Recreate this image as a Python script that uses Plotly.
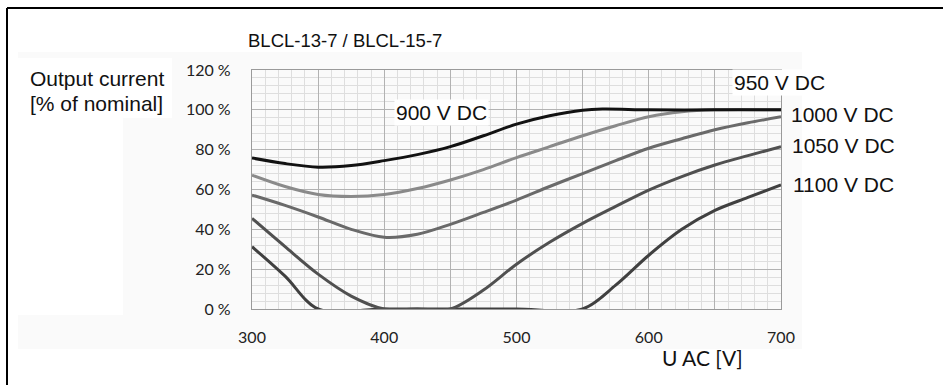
import plotly.graph_objects as go

# ---- data ----
v900_x = [300, 325, 350, 375, 400, 425, 450, 475, 500, 525, 550, 565, 600, 650, 700]
v900_y = [75.8, 73, 71.2, 72, 74.5, 77.5, 81.5, 87, 92.8, 97, 99.8, 100.4, 100, 100, 100]

v950_x = [300, 325, 350, 375, 400, 425, 450, 475, 500, 525, 550, 575, 600, 625, 650, 700]
v950_y = [67.2, 61.5, 57.5, 56.5, 57.5, 60.5, 64.8, 70, 76, 81.5, 87, 92, 96.5, 99, 100, 100]

v1000_x = [300, 325, 350, 375, 400, 425, 450, 475, 500, 525, 550, 575, 600, 625, 650, 675, 700]
v1000_y = [57.2, 52, 46.2, 40, 36, 37.5, 42.5, 48.5, 54.7, 61.5, 68, 74.5, 80.7, 85.5, 90, 93.5, 96.5]

v1050_x = [300, 325, 350, 375, 400, 425, 450, 475, 500, 525, 550, 575, 600, 625, 650, 675, 700]
v1050_y = [45.5, 31.3, 17.5, 6.5, 0, 0, 0, 9.5, 22.5, 33.5, 43, 51.5, 59.7, 66.5, 72.3, 77, 81.5]

v1100_x = [300, 325, 350, 400, 450, 500, 550, 575, 600, 625, 650, 675, 700]
v1100_y = [31.3, 16.5, 0, 0, 0, 0, 0, 12, 27, 40, 49.5, 56, 62.3]

series = [
    ("1100 V DC", v1100_x, v1100_y, "#404040"),
    ("1050 V DC", v1050_x, v1050_y, "#505050"),
    ("1000 V DC", v1000_x, v1000_y, "#6a6a6a"),
    ("950 V DC", v950_x, v950_y, "#8a8a8a"),
    ("900 V DC", v900_x, v900_y, "#121212"),
]

x_ticks = [300, 350, 400, 450, 500, 550, 600, 650, 700]
x_tick_text = ["300", "", "400", "", "500", "", "600", "", "700"]
y_ticks = [0, 20, 40, 60, 80, 100, 120]
y_tick_text = [f"{v} %" for v in y_ticks]

title_text = "BLCL-13-7 / BLCL-15-7"
y_title = ["Output current", "[% of nominal]"]
x_title = "U AC [V]"

W, H = 943, 385
L, R, T, B = 252, 781, 70, 309  # plot area pixels


def px(x):
    return (x - L) / (R - L)


def py(y):
    return (B - y) / (B - T)


fig = go.Figure()
for name, xs, ys, col in series:
    fig.add_trace(go.Scatter(x=xs, y=ys, mode="lines", name=name,
                             line=dict(color=col, width=3, shape="spline", smoothing=0.9),
                             showlegend=False, hoverinfo="skip"))

TICKFONT = dict(family="Lato, Liberation Sans, Arial", size=16, color="#222222")
LBLFONT = dict(family="Liberation Sans, Arial", size=21, color="#111111")

shapes = [
    # faint background panel
    dict(type="rect", xref="paper", yref="paper", x0=px(18), x1=px(802), y0=py(349), y1=py(52),
         fillcolor="#fafafa", line=dict(width=0), layer="below"),
    dict(type="rect", xref="paper", yref="paper", x0=px(18), x1=px(172), y0=py(118), y1=py(58),
         fillcolor="#ffffff", line=dict(width=0), layer="below"),
    dict(type="rect", xref="paper", yref="paper", x0=px(18), x1=px(123), y0=py(315), y1=py(118),
         fillcolor="#ffffff", line=dict(width=0), layer="below"),
    # outer frame (top + left)
    dict(type="line", xref="paper", yref="paper", x0=px(7), x1=px(943), y0=py(8), y1=py(8),
         line=dict(color="#000000", width=2)),
    dict(type="line", xref="paper", yref="paper", x0=px(7), x1=px(7), y0=py(8), y1=py(385),
         line=dict(color="#000000", width=2)),
]

annotations = [
    dict(text=title_text, xref="paper", yref="paper", x=px(246), y=py(40), xanchor="left",
         yanchor="middle", showarrow=False,
         font=dict(family="Liberation Sans, Arial", size=18.5, color="#111111")),
    dict(text=y_title[0], xref="paper", yref="paper", x=px(28), y=py(78), xanchor="left",
         yanchor="middle", showarrow=False, font=LBLFONT),
    dict(text=y_title[1], xref="paper", yref="paper", x=px(28), y=py(103), xanchor="left",
         yanchor="middle", showarrow=False, font=LBLFONT),
    dict(text=x_title, xref="paper", yref="paper", x=px(660), y=py(357), xanchor="left",
         yanchor="middle", showarrow=False,
         font=dict(family="Lato, Liberation Sans, Arial", size=21, color="#111111")),
    dict(text="900 V DC", xref="paper", yref="paper", x=px(441), y=py(112), xanchor="center",
         yanchor="middle", showarrow=False, bgcolor="#ffffff", font=LBLFONT, borderpad=1),
    dict(text="950 V DC", xref="paper", yref="paper", x=px(732), y=py(82.5), xanchor="left",
         yanchor="middle", showarrow=False, bgcolor="#ffffff", font=LBLFONT, borderpad=1),
    dict(text="1000 V DC", xref="paper", yref="paper", x=px(789), y=py(114.5), xanchor="left",
         yanchor="middle", showarrow=False, font=LBLFONT),
    dict(text="1050 V DC", xref="paper", yref="paper", x=px(790), y=py(145.5), xanchor="left",
         yanchor="middle", showarrow=False, font=LBLFONT),
    dict(text="1100 V DC", xref="paper", yref="paper", x=px(791), y=py(184.5), xanchor="left",
         yanchor="middle", showarrow=False, font=LBLFONT),
]

fig.update_layout(
    width=W, height=H,
    margin=dict(l=L, r=W - R, t=T, b=H - B, pad=0),
    paper_bgcolor="#ffffff", plot_bgcolor="#ffffff",
    shapes=shapes, annotations=annotations,
    xaxis=dict(range=[300, 700], tickvals=x_ticks, ticktext=x_tick_text,
               showgrid=True, gridcolor="#b2b2b2", gridwidth=1.3,
               minor=dict(dtick=10, showgrid=True, gridcolor="#dedede", gridwidth=1),
               showline=True, linecolor="#9a9a9a", linewidth=1.3, mirror=True,
               zeroline=False, tickfont=TICKFONT, ticks="", ticklabelstandoff=14),
    yaxis=dict(range=[0, 120], tickvals=y_ticks, ticktext=y_tick_text,
               showgrid=True, gridcolor="#b2b2b2", gridwidth=1.3,
               minor=dict(dtick=4, showgrid=True, gridcolor="#dedede", gridwidth=1),
               showline=True, linecolor="#9a9a9a", linewidth=1.3, mirror=True,
               zeroline=False, tickfont=TICKFONT, ticks="", ticklabelstandoff=17),
)

fig.write_html("out.html")
